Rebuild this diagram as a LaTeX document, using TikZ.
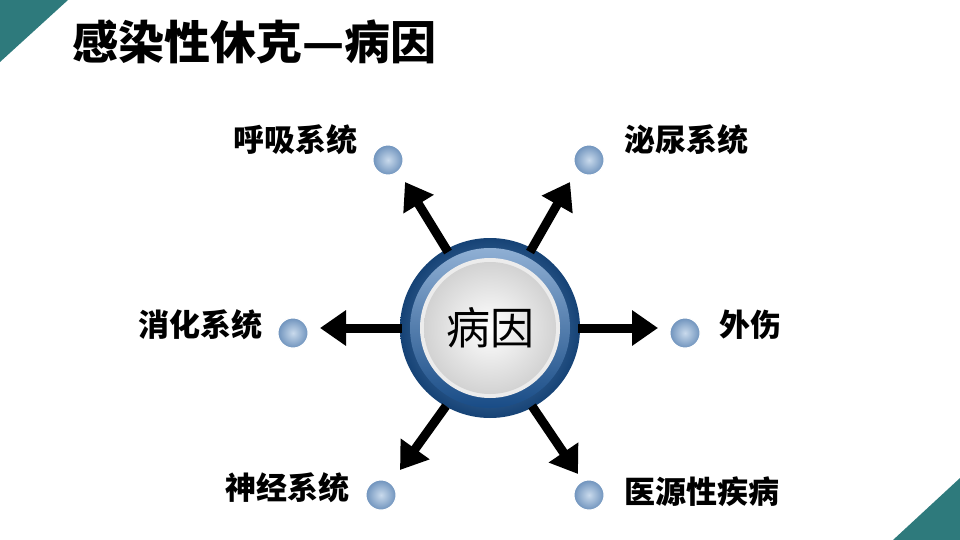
\documentclass[tikz,border=0pt]{standalone}
\usepackage{fontspec}
\setmainfont{Noto Sans CJK SC}
\usetikzlibrary{arrows.meta}
\definecolor{teal}{HTML}{2E7A7C}
\definecolor{ringblue}{HTML}{1F5FA8}
\definecolor{balla}{HTML}{C9DAEC}
\definecolor{ballb}{HTML}{6F93BD}
\tikzset{
  ball/.style={circle,minimum size=30pt,inner sep=0pt,shade,inner color=balla,outer color=ballb,draw=white,line width=1pt},
  lbl/.style={font=\fontsize{31pt}{33pt}\selectfont\bfseries,inner sep=0pt},
  arr/.style={line width=9pt,-{Triangle[length=26pt,width=34pt]}}
}
\begin{document}
\begin{tikzpicture}[x=1pt,y=-1pt]
\useasboundingbox (0,0) rectangle (960,540);
\fill[white] (0,0) rectangle (960,540);
\fill[teal] (0,0) -- (68,0) -- (0,62) -- cycle;
\fill[teal] (960,540) -- (893,540) -- (960,478) -- cycle;
\node[anchor=west,font=\fontsize{46pt}{48pt}\selectfont\bfseries,inner sep=0pt] (title) at (72,42) {感染性休克—病因};
% center
\shade[outer color=ringblue!70!black, inner color=ringblue!60!white] (490,328) circle (90);
\shade[top color=ringblue!50!white,bottom color=ringblue!80!black] (490,328) circle (80);
\fill[white!85!gray] (490,328) circle (70);
\shade[inner color=white,outer color=gray!35] (490,328) circle (66);
\node[circle,minimum size=180pt,inner sep=0pt,font=\fontsize{44pt}{46pt}\selectfont] (c) at (490,328) {病因};
% balls
\node[ball] (b1) at (388,160) {};
\node[ball] (b2) at (589,160) {};
\node[ball] (b3) at (293,333) {};
\node[ball] (b4) at (685,333) {};
\node[ball] (b5) at (381,495) {};
\node[ball] (b6) at (589,495) {};
% labels
\node[lbl] (l1) at (295,140) {呼吸系统};
\node[lbl] (l2) at (686,140) {泌尿系统};
\node[lbl] (l3) at (200,325) {消化系统};
\node[lbl] (l4) at (750,325) {外伤};
\node[lbl] (l5) at (287,488) {神经系统};
\node[lbl] (l6) at (702,492) {医源性疾病};
% arrow ends
\coordinate (s1) at (448,252); \coordinate (e1) at (405,182);
\coordinate (s2) at (530,252); \coordinate (e2) at (570,182);
\coordinate (s3) at (402,328); \coordinate (e3) at (320,328);
\coordinate (s4) at (578,328); \coordinate (e4) at (658,328);
\coordinate (s5) at (446,406); \coordinate (e5) at (400,470);
\coordinate (s6) at (532,406); \coordinate (e6) at (578,474);
\foreach \i in {1,...,6} \draw[arr] (s\i) -- (e\i);
\end{tikzpicture}
\end{document}
